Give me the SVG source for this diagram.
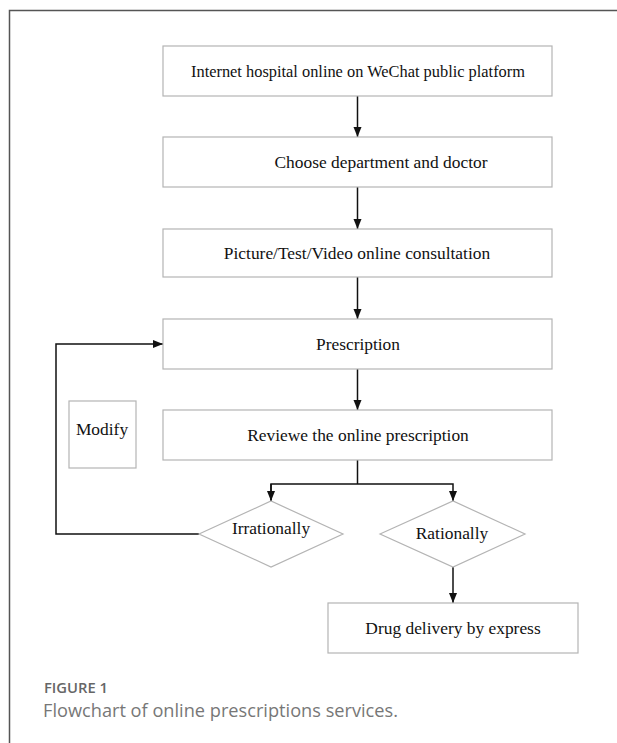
<svg xmlns="http://www.w3.org/2000/svg" width="617" height="743" viewBox="0 0 617 743">
<style>
.box{fill:#fff;stroke:#b4b4b4;stroke-width:1.2}
.t{font-family:'Liberation Serif','DejaVu Serif',serif;font-size:17.4px;fill:#111;text-anchor:middle}
.c{fill:none;stroke:#111;stroke-width:1.5}
.frame{fill:none;stroke:#555;stroke-width:1.5}
.cap1{font-family:'Open Sans',Lato,sans-serif;font-size:14px;font-weight:600;fill:#666}
.cap2{font-family:'Open Sans',Lato,sans-serif;font-size:17.5px;fill:#777}
</style>
<defs>
<marker id="ah" viewBox="0 0 10 10" refX="10" refY="5" markerWidth="10" markerHeight="10" markerUnits="userSpaceOnUse" orient="auto">
<path d="M0,1 L10,5 L0,9 Z" fill="#111"/>
</marker>
</defs>
<rect width="617" height="743" fill="#fff"/>
<path class="frame" d="M9.5,743 V10.5 H617"/>
<g id="connectors">
<line class="c" x1="357.5" y1="96" x2="357.5" y2="137" marker-end="url(#ah)"/>
<line class="c" x1="357.5" y1="187" x2="357.5" y2="229" marker-end="url(#ah)"/>
<line class="c" x1="357.5" y1="277" x2="357.5" y2="319" marker-end="url(#ah)"/>
<line class="c" x1="357.5" y1="369" x2="357.5" y2="410" marker-end="url(#ah)"/>
<polyline class="c" points="357.5,460 357.5,484"/>
<polyline class="c" points="271,501 271,484 453,484 453,501" marker-end="url(#ah)"/>
<polyline class="c" points="271,484 271,501" marker-end="url(#ah)"/>
<line class="c" x1="453" y1="567" x2="453" y2="603" marker-end="url(#ah)"/>
<polyline class="c" points="199,534 56,534 56,344 163,344" marker-end="url(#ah)"/>
</g>
<g id="n1"><rect class="box" x="163" y="46" width="389" height="50"/><text class="t" x="358" y="77" textLength="334" lengthAdjust="spacingAndGlyphs">Internet hospital online on WeChat public platform</text></g>
<g id="n2"><rect class="box" x="163" y="137" width="389" height="50"/><text class="t" x="381" y="168">Choose department and doctor</text></g>
<g id="n3"><rect class="box" x="163" y="229" width="389" height="48"/><text class="t" x="357" y="259">Picture/Test/Video online consultation</text></g>
<g id="n4"><rect class="box" x="163" y="319" width="389" height="50"/><text class="t" x="358" y="350">Prescription</text></g>
<g id="n5"><rect class="box" x="163" y="410" width="389" height="50"/><text class="t" x="358" y="441">Reviewe the online prescription</text></g>
<g id="n6"><rect class="box" x="69" y="401" width="67" height="67"/><text class="t" x="102" y="435">Modify</text></g>
<g id="n7"><polygon class="box" points="199,534 271,501 343,534 271,567"/><text class="t" x="271" y="534">Irrationally</text></g>
<g id="n8"><polygon class="box" points="380,534 453,501 525,534 453,567"/><text class="t" x="452" y="539">Rationally</text></g>
<g id="n9"><rect class="box" x="328" y="603" width="250" height="50"/><text class="t" x="453" y="634">Drug delivery by express</text></g>
<text class="cap1" x="44" y="693" textLength="64" lengthAdjust="spacingAndGlyphs">FIGURE 1</text>
<text class="cap2" x="43" y="717" textLength="355" lengthAdjust="spacingAndGlyphs">Flowchart of online prescriptions services.</text>
</svg>
